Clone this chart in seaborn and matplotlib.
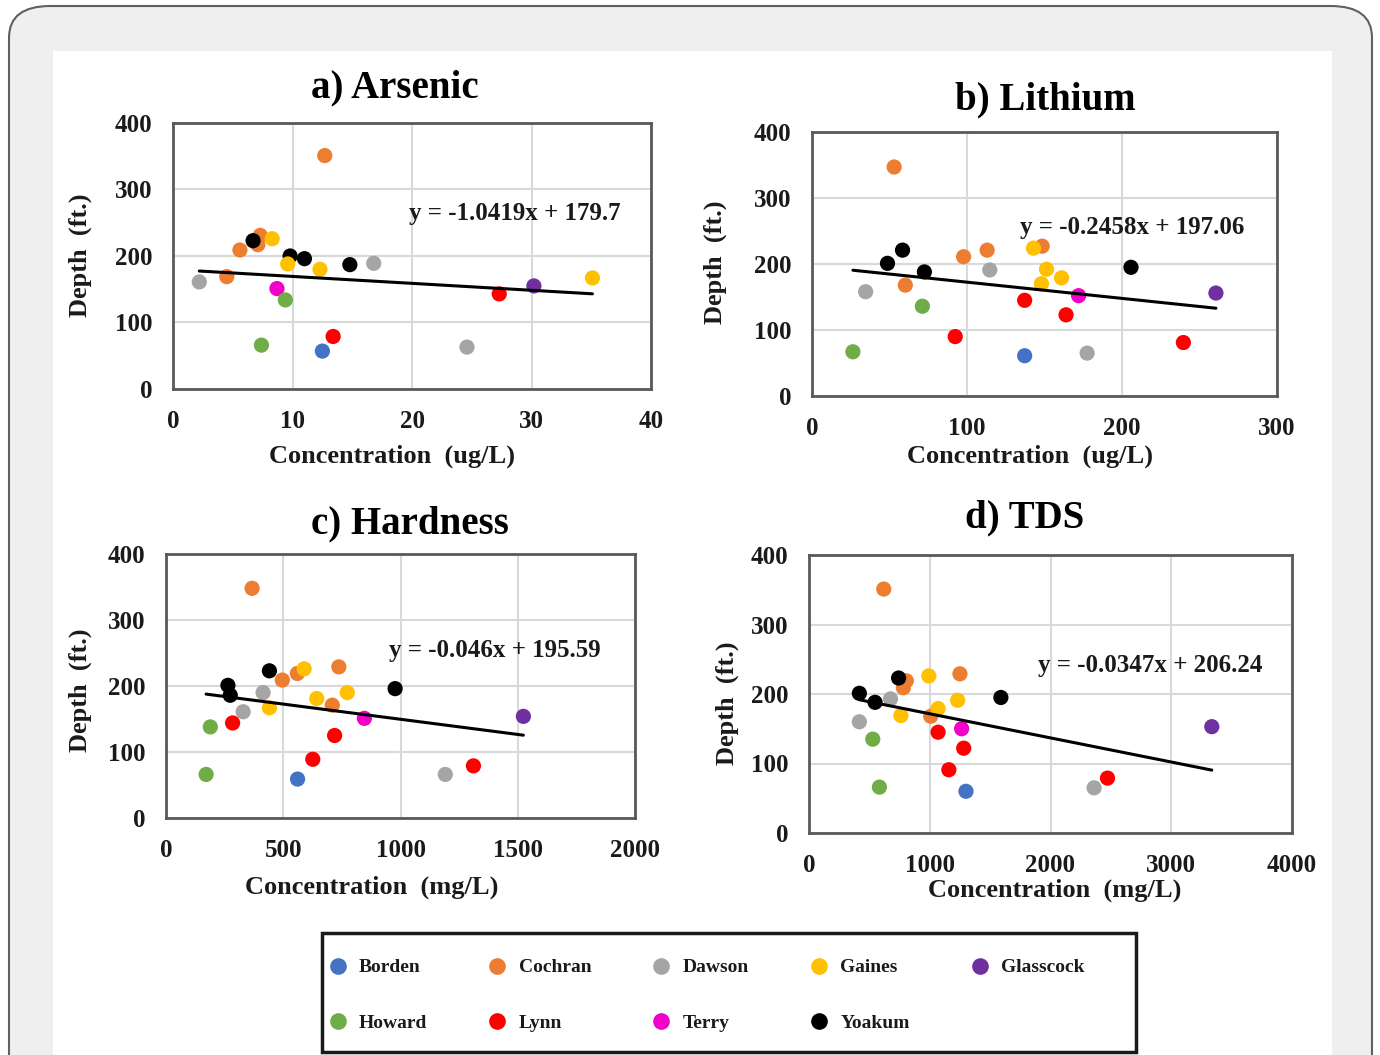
import numpy as np
import pandas as pd
import matplotlib
matplotlib.use("Agg")
import matplotlib.pyplot as plt
from matplotlib.lines import Line2D
from matplotlib.patches import FancyBboxPatch, Rectangle
import seaborn as sns

# county colours (Excel default palette)
counties = ["Borden", "Cochran", "Dawson", "Gaines", "Glasscock",
            "Howard", "Lynn", "Terry", "Yoakum"]
colors = ["#4472C4", "#ED7D31", "#A5A5A5", "#FFC000", "#7030A0",
          "#70AD47", "#FF0000", "#F000C8", "#000000"]

# a) Arsenic (ug/L)
as_county = ["Cochran"] * 5 + ["Yoakum"] * 4 + ["Gaines"] * 4 + ["Dawson"] * 3 + \
            ["Terry"] + ["Howard"] * 2 + ["Lynn"] * 2 + ["Glasscock"] + ["Borden"]
as_conc = [12.7, 7.3, 7.1, 5.6, 4.5,
           6.7, 9.8, 11.0, 14.8,
           8.3, 9.6, 12.3, 35.1,
           16.8, 2.2, 24.6,
           8.7,
           9.4, 7.4,
           27.3, 13.4,
           30.2,
           12.5]
as_depth = [351, 231, 217, 209, 169,
            223, 200, 196, 187,
            226, 188, 180, 167,
            189, 161, 63,
            151,
            134, 66,
            143, 79,
            155,
            57]

# the other three panels share the same 25 wells in this order
well_county = ["Cochran"] * 5 + ["Yoakum"] * 4 + ["Gaines"] * 4 + ["Dawson"] * 3 + \
              ["Terry"] + ["Howard"] * 2 + ["Lynn"] * 4 + ["Glasscock"] + ["Borden"]

# b) Lithium (ug/L)
li_conc = [53, 97.8, 113, 148.5, 60.2,
           58.4, 48.7, 72.5, 205.8,
           142.9, 151.3, 161, 148,
           114.7, 34.6, 177.5,
           172,
           71.2, 26.4,
           137.2, 163.9, 92.4, 239.6,
           260.6,
           137.2]
li_depth = [347, 211, 221, 227, 168,
            221, 201, 188, 195,
            224, 192, 179, 170,
            191, 158, 65,
            152,
            136, 67,
            145, 123, 90, 81,
            156,
            61]

# c) Hardness (mg/L)
hd_conc = [367, 496, 560, 737, 709,
           441, 264, 274, 977,
           589, 441, 643, 773,
           414, 329, 1191,
           846,
           189, 171,
           284, 719, 626, 1311,
           1524,
           561]
hd_depth = [348, 209, 219, 229, 171,
            223, 201, 186, 196,
            226, 167, 181, 190,
            190, 161, 66,
            151,
            138, 66,
            144, 125, 89, 79,
            154,
            59]

# d) TDS (mg/L)
tds_conc = [619, 806, 781, 1250, 1008,
            742, 417, 547, 1589,
            992, 761, 1069, 1231,
            675, 417, 2361,
            1264,
            528, 583,
            1069, 1281, 1158, 2472,
            3336,
            1300]
tds_depth = [351, 219, 209, 229, 168,
             223, 201, 188, 195,
             226, 169, 179, 191,
             193, 160, 65,
             150,
             135, 66,
             145, 122, 91, 79,
             153,
             60]

titles = ["a) Arsenic", "b) Lithium", "c) Hardness", "d) TDS"]
units = ["ug/L", "ug/L", "mg/L", "mg/L"]
x_max = [40, 300, 2000, 4000]
x_step = [10, 100, 500, 1000]
slopes = [-1.0419, -0.2458, -0.046, -0.0347]
intercepts = [179.7, 197.06, 195.59, 206.24]

panels = [(as_county, as_conc, as_depth),
          (well_county, li_conc, li_depth),
          (well_county, hd_conc, hd_depth),
          (well_county, tds_conc, tds_depth)]

sns.set_style("white")
plt.rcParams["font.family"] = ["Liberation Serif", "DejaVu Serif"]
plt.rcParams["font.weight"] = "bold"
plt.rcParams["axes.labelweight"] = "bold"
plt.rcParams["text.color"] = "#1a1a1a"

W, H = 1380, 1055
fig = plt.figure(figsize=(W / 100, H / 100), dpi=100)
fig.patch.set_facecolor("white")

# page frame
fig.patches.append(FancyBboxPatch((9 / W, -0.05), 1363 / W, 1.0 - 6 / H + 0.05,
                                  boxstyle="round,pad=0,rounding_size=0.03",
                                  transform=fig.transFigure, facecolor="#efefef",
                                  edgecolor="#606060", linewidth=1.5, zorder=-10))
fig.patches.append(Rectangle((53 / W, 0), 1279 / W, 1 - 51 / H, transform=fig.transFigure,
                             facecolor="white", edgecolor="none", zorder=-9))

# pixel boxes: left, top, right, bottom
boxes = [(173, 123, 651, 389), (812, 132, 1277, 396),
         (166, 554, 635, 818), (809, 555, 1292, 833)]
title_pos = [(395, 88), (1045, 100), (410, 524), (1025, 518)]
xlab_pos = [(392, 456), (1030, 456), (372, 887), (1055, 890)]
ylab_pos = [(80, 255), (715, 262), (80, 690), (727, 703)]
eq_pos = [(0.715, 0.658), (0.688, 0.640), (0.701, 0.636), (0.706, 0.604)]

palette = dict(zip(counties, colors))

for i, (cty, xs, ys) in enumerate(panels):
    l, t, r, b = boxes[i]
    ax = fig.add_axes([l / W, 1 - b / H, (r - l) / W, (b - t) / H])
    df = pd.DataFrame({"County": cty, "Conc": xs, "Depth": ys})
    sns.scatterplot(data=df, x="Conc", y="Depth", hue="County", palette=palette,
                    hue_order=counties, s=120, linewidth=0, legend=False, ax=ax, zorder=3)
    xl = np.array([min(xs), max(xs)])
    ax.plot(xl, slopes[i] * xl + intercepts[i], color="black", lw=2.2, zorder=4)
    sign = "+" if intercepts[i] >= 0 else "-"
    ax.text(eq_pos[i][0], eq_pos[i][1], f"y = {slopes[i]}x {sign} {abs(intercepts[i])}",
            transform=ax.transAxes, ha="center", va="center", fontsize=18,
            fontweight="bold", zorder=5)
    ax.set_xlim(0, x_max[i])
    ax.set_ylim(0, 400)
    ax.set_xticks(np.arange(0, x_max[i] + 1, x_step[i]))
    ax.set_yticks(np.arange(0, 401, 100))
    ax.grid(True, color="#d9d9d9", lw=1.5)
    ax.set_axisbelow(True)
    for sp in ax.spines.values():
        sp.set_color("#595959")
        sp.set_linewidth(2)
    ax.tick_params(length=0, pad=15, labelsize=18, labelcolor="#1a1a1a")
    for lab in ax.get_xticklabels() + ax.get_yticklabels():
        lab.set_fontweight("bold")
    ax.set_xlabel("")
    ax.set_ylabel("")
    fig.text(title_pos[i][0] / W, 1 - title_pos[i][1] / H, titles[i], ha="center",
             va="center", fontsize=28, fontweight="bold", color="black")
    fig.text(xlab_pos[i][0] / W, 1 - xlab_pos[i][1] / H, f"Concentration  ({units[i]})",
             ha="center", va="center", fontsize=19, fontweight="bold")
    fig.text(ylab_pos[i][0] / W, 1 - ylab_pos[i][1] / H, "Depth  (ft.)", ha="center",
             va="center", fontsize=19, fontweight="bold", rotation=90)

# legend box
fig.patches.append(Rectangle((322 / W, 1 - 1052 / H), 814 / W, 119 / H,
                             transform=fig.transFigure, facecolor="white",
                             edgecolor="#1a1a1a", linewidth=2.5, zorder=5))
handles = [Line2D([], [], marker="o", ls="none", markersize=12, markeredgewidth=0,
                  color=palette[c], label=c) for c in counties]
order = [0, 5, 1, 6, 2, 7, 3, 8, 4]
leg = fig.legend([handles[k] for k in order], [counties[k] for k in order],
                 ncol=5, loc="upper left", bbox_to_anchor=(322 / W, 1 - 951 / H),
                 frameon=False, fontsize=14, handlelength=0.8, handletextpad=0.7,
                 columnspacing=3.2, labelspacing=1.95, borderaxespad=0)
leg.set_zorder(6)
for txt in leg.get_texts():
    txt.set_fontweight("bold")

fig.savefig("out.png", dpi=100)
